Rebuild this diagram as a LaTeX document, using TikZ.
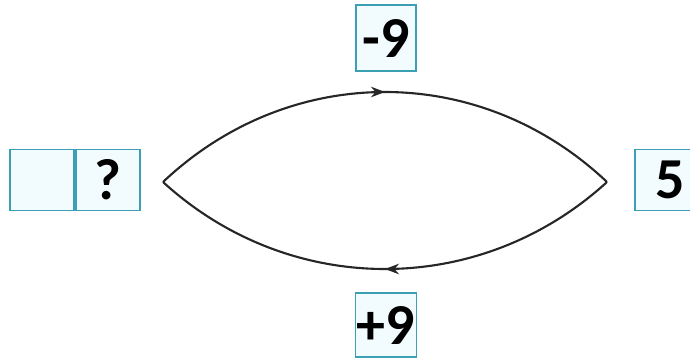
\documentclass[tikz,border=0pt]{standalone}
\usepackage{fontspec}
\setmainfont{Carlito}
\usetikzlibrary{positioning, arrows.meta, decorations.markings}

\definecolor{boxline}{RGB}{60,160,180}
\definecolor{boxfill}{RGB}{242,251,253}

\begin{document}
\begin{tikzpicture}[
  x=0.02cm, y=-0.02cm,
  cell/.style={rectangle, draw=boxline, fill=boxfill, line width=1.1pt,
               minimum width=1.28cm, minimum height=1.22cm, inner sep=0pt,
               font=\fontsize{33}{35}\selectfont\bfseries},
  path/.style={line width=1.2pt, black!85},
  midarrow/.style={postaction={decorate, decoration={markings,
                   mark=at position 0.5 with {\arrow{Stealth[length=8pt,width=6pt]}}}}},
]
  \useasboundingbox (0,0) rectangle (690,359);

  % left pair of cells
  \node[cell] (blank) at (42,180) {};
  \node[cell, right=0pt of blank] (unknown) {?};

  % operations
  \node[cell, minimum width=1.2cm, minimum height=1.32cm] (minus) at (386,38) {-9};
  \node[cell, minimum width=1.22cm, minimum height=1.28cm] (plus) at (386,325) {+9};

  % result
  \node[cell, minimum width=1.4cm] (result) at (670,180) {5};

  \coordinate (lp) at (163,182);
  \coordinate (rp) at (607,182);

  \draw[path, midarrow] (lp) .. controls (290,62) and (480,62) .. (rp);
  \draw[path, midarrow] (rp) .. controls (480,298) and (290,298) .. (lp);
\end{tikzpicture}
\end{document}
